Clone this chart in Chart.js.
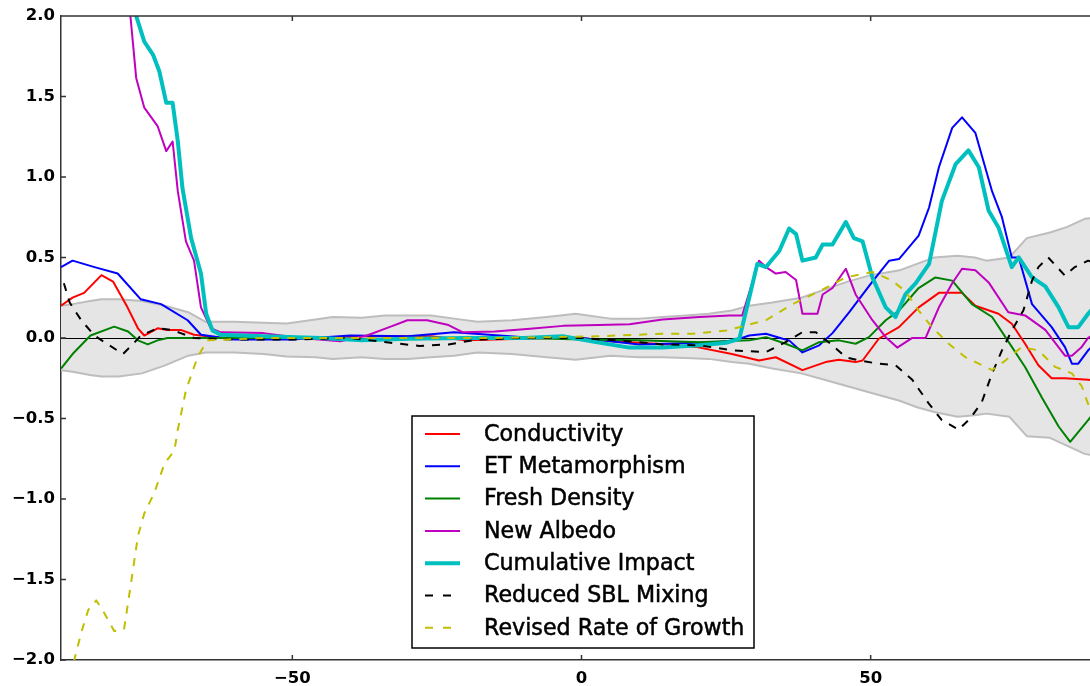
<!DOCTYPE html>
<html>
<head>
<meta charset="utf-8">
<script src="https://cdn.jsdelivr.net/npm/chart.js@4.4.1/dist/chart.umd.min.js"></script>
<style>
  html, body { margin: 0; padding: 0; background: #fff; overflow: hidden; }
  #wrap { width: 1090px; height: 686px; overflow: hidden; position: relative; }
</style>
</head>
<body>
<div id="wrap"><canvas id="chart" width="1120" height="686"></canvas></div>
<script>
// tick values
const xTicks = [-50, 0, 50];
const yTicks = [-2.0, -1.5, -1.0, -0.5, 0.0, 0.5, 1.0, 1.5, 2.0];

// grey spread band
const bandX = [-90, -88, -85, -83, -80, -76, -72, -68, -65, -60, -55, -51, -46, -43, -38, -34, -30, -26, -22, -18, -12, -6, -1, 5, 10, 14, 18, 22, 26, 29, 33, 38, 42, 46, 50, 55, 58, 61, 65, 68, 70, 74, 77, 81, 84, 87, 90];
const bandUpper = [0.20, 0.21, 0.23, 0.24, 0.24, 0.23, 0.20, 0.16, 0.10, 0.10, 0.095, 0.09, 0.115, 0.13, 0.125, 0.14, 0.14, 0.14, 0.12, 0.10, 0.11, 0.13, 0.15, 0.12, 0.12, 0.13, 0.14, 0.15, 0.17, 0.20, 0.22, 0.25, 0.30, 0.35, 0.39, 0.42, 0.46, 0.50, 0.51, 0.50, 0.48, 0.50, 0.62, 0.655, 0.69, 0.74, 0.75];
const bandLower = [-0.20, -0.21, -0.23, -0.24, -0.24, -0.22, -0.17, -0.11, -0.09, -0.09, -0.10, -0.115, -0.12, -0.13, -0.12, -0.13, -0.13, -0.12, -0.11, -0.09, -0.10, -0.12, -0.135, -0.11, -0.12, -0.12, -0.125, -0.13, -0.15, -0.16, -0.19, -0.22, -0.26, -0.30, -0.34, -0.39, -0.43, -0.46, -0.49, -0.48, -0.47, -0.49, -0.61, -0.62, -0.67, -0.72, -0.74];

// Conductivity
const condX = [-90, -88, -86, -83, -81, -78.5, -76.7, -75.6, -73.3, -71.6, -69.3, -67, -62, -55, -45, -38, -31, -26, -20, -15, -10, -5, 0, 5, 10, 15, 20, 26, 30.7, 33.6, 38.2, 42.2, 44.5, 47.4, 48.6, 51.4, 54.9, 58.3, 61.8, 65.8, 68.1, 72.1, 74.4, 76.7, 79, 81.3, 83.6, 87.6, 90];
const condY = [0.20, 0.25, 0.28, 0.39, 0.35, 0.19, 0.06, 0.015, 0.06, 0.05, 0.05, 0.02, 0.0, 0.0, 0.0, 0.01, 0.01, 0.01, -0.015, -0.01, -0.005, 0.0, 0.0, -0.02, -0.03, -0.04, -0.057, -0.10, -0.14, -0.12, -0.20, -0.15, -0.135, -0.15, -0.14, -0.005, 0.067, 0.19, 0.28, 0.28, 0.20, 0.15, 0.088, -0.036, -0.17, -0.25, -0.25, -0.26, -0.27];

// ET Metamorphism
const etX = [-90, -88, -84.2, -80.2, -76.2, -72.7, -68.1, -65.8, -60, -50, -40, -30, -22, -10, 0, 10, 20.4, 26.1, 29, 31.9, 34.8, 35.9, 38.2, 41.1, 43.4, 46.3, 50.3, 53.2, 54.9, 58.3, 60.1, 61.8, 64.1, 65.8, 68.1, 69.8, 71, 72.7, 74.4, 75.6, 77.9, 81.3, 83.6, 84.8, 85.9, 87.6, 90];
const etY = [0.44, 0.48, 0.44, 0.40, 0.24, 0.21, 0.11, 0.02, -0.01, -0.01, 0.015, 0.01, 0.035, 0.005, 0.0, -0.04, -0.03, -0.02, 0.015, 0.026, -0.005, -0.015, -0.09, -0.046, 0.03, 0.16, 0.35, 0.48, 0.49, 0.635, 0.81, 1.06, 1.305, 1.37, 1.274, 1.06, 0.91, 0.75, 0.50, 0.50, 0.21, 0.067, -0.057, -0.16, -0.16, -0.077, 0.0];

// Fresh Density
const fdX = [-90, -88, -84.9, -80.8, -78.4, -76.7, -75, -73.3, -71.6, -60, -50, -40, -30, -20, -10, 0, 10, 20.4, 29, 31.9, 35.3, 38.2, 41.1, 44.5, 47.4, 49.7, 52.6, 54.9, 58.3, 61.2, 64.1, 67.5, 71, 73.3, 76.7, 79.6, 82.5, 84.5, 87.6, 90];
const fdY = [-0.19, -0.10, 0.015, 0.07, 0.04, -0.015, -0.04, -0.015, 0.0, 0.0, 0.0, -0.01, -0.005, 0.0, 0.0, -0.01, -0.015, -0.026, -0.015, 0.005, -0.036, -0.077, -0.026, -0.015, -0.036, 0.005, 0.11, 0.17, 0.31, 0.376, 0.356, 0.21, 0.13, 0.005, -0.18, -0.37, -0.55, -0.645, -0.51, -0.40];

// New Albedo
const naX = [-80, -78, -77, -75.6, -73.3, -71.8, -70.7, -69.8, -68.4, -67, -65.8, -64.1, -62.4, -55, -48.6, -41.7, -37.1, -33, -30.1, -26.7, -23, -20.5, -15, -8.9, -3.2, 3, 8.3, 14, 20.4, 25.6, 27.8, 30.7, 31.9, 33.6, 35.3, 37.1, 38.2, 40.8, 41.7, 43.4, 45.7, 47.4, 50.3, 52.6, 54.6, 57.2, 59.5, 61.8, 64.1, 65.8, 68.1, 70.4, 73.8, 76.7, 80.2, 83.6, 84.8, 86.4, 87.6, 90];
const naY = [2.8, 2.0, 1.615, 1.43, 1.316, 1.16, 1.22, 0.91, 0.60, 0.48, 0.19, 0.06, 0.035, 0.03, 0.0, -0.02, 0.015, 0.07, 0.11, 0.11, 0.08, 0.035, 0.04, 0.057, 0.075, 0.08, 0.085, 0.115, 0.13, 0.14, 0.14, 0.48, 0.44, 0.40, 0.41, 0.36, 0.15, 0.15, 0.27, 0.31, 0.43, 0.27, 0.11, 0.005, -0.06, 0.0, 0.0, 0.19, 0.34, 0.43, 0.42, 0.345, 0.16, 0.14, 0.05, -0.11, -0.11, -0.06, 0.0, 0.05];

// Cumulative Impact
const ciX = [-80, -77, -75.6, -74.1, -73, -71.8, -70.7, -69.8, -69, -67.5, -65.8, -64.9, -63.8, -62.4, -55, -45, -38, -30, -20, -10, -3.2, 2.5, 8.3, 14, 20.4, 25, 27.3, 29.0, 30.4, 31.9, 34.2, 35.9, 37.1, 38.2, 40.5, 41.7, 43.4, 45.7, 47.1, 48.6, 50.3, 52.6, 54.3, 56.0, 57.8, 60.1, 62.3, 64.7, 66.9, 68.7, 70.4, 72.1, 74.4, 75.6, 77.9, 80.2, 82.5, 84.2, 85.9, 87.6, 90];
const ciY = [2.4, 2.0, 1.84, 1.76, 1.656, 1.46, 1.46, 1.22, 0.93, 0.62, 0.40, 0.15, 0.046, 0.02, 0.01, 0.0, -0.015, -0.005, 0.0, 0.0, 0.01, -0.026, -0.06, -0.06, -0.046, -0.03, -0.005, 0.25, 0.46, 0.44, 0.54, 0.68, 0.645, 0.48, 0.50, 0.58, 0.58, 0.72, 0.62, 0.60, 0.376, 0.19, 0.13, 0.27, 0.34, 0.46, 0.85, 1.08, 1.165, 1.06, 0.79, 0.686, 0.44, 0.50, 0.376, 0.32, 0.19, 0.067, 0.067, 0.15, 0.25];

// Reduced SBL Mixing
const sblX = [-89.5, -88.5, -86.5, -84.2, -81.9, -79.3, -77.6, -76.2, -73.3, -70.9, -69.3, -67, -60, -50, -40, -33, -28, -23, -18, -10, 0, 8, 14, 20.4, 26.1, 31.9, 35.3, 38.2, 40.5, 43.4, 45.7, 48.0, 51.4, 54.3, 57.2, 60.1, 62.3, 65.2, 67.2, 69.2, 71, 72.7, 74.4, 76.4, 77.9, 79, 80.7, 83.6, 85.3, 87.6, 90];
const sblY = [0.34, 0.22, 0.11, 0.015, -0.04, -0.10, -0.04, 0.015, 0.06, 0.05, 0.03, 0.0, -0.01, -0.01, 0.0, -0.03, -0.05, -0.04, -0.01, 0.0, 0.0, -0.02, -0.04, -0.046, -0.077, -0.088, -0.026, 0.036, 0.036, -0.046, -0.12, -0.14, -0.16, -0.17, -0.26, -0.41, -0.51, -0.57, -0.50, -0.40, -0.22, -0.077, 0.046, 0.17, 0.356, 0.44, 0.50, 0.387, 0.44, 0.48, 0.45];

// Revised Rate of Growth
const rrgX = [-90, -87.7, -86.5, -85.3, -83.9, -82.5, -80.8, -79.1, -77.8, -76.7, -75.6, -73.9, -72.1, -70.4, -69.8, -68.4, -66.4, -64.7, -55, -45, -35, -25, -15, -5, 2.5, 14, 19.2, 25, 27.3, 31.9, 36.5, 41.1, 45.7, 50.3, 53.7, 56, 58.3, 60.6, 63.5, 66.4, 71, 73.3, 76.1, 79, 81.9, 84.8, 86.5, 87.6, 90];
const rrgY = [-2.3, -2.0, -1.83, -1.69, -1.63, -1.71, -1.82, -1.81, -1.50, -1.23, -1.09, -0.965, -0.78, -0.70, -0.57, -0.325, -0.12, -0.015, 0.0, 0.0, 0.0, 0.0, 0.0, 0.005, 0.01, 0.026, 0.026, 0.046, 0.067, 0.11, 0.21, 0.29, 0.376, 0.41, 0.356, 0.29, 0.17, 0.067, -0.036, -0.12, -0.20, -0.14, -0.057, -0.077, -0.18, -0.22, -0.30, -0.41, -0.6];

function toPoints(xs, ys) {
    return xs.map(function(x, i) { return {x: x, y: ys[i]}; });
}

function series(label, xs, ys, color, width, dashed, order) {
    return {
        label: label,
        data: toPoints(xs, ys),
        borderColor: color,
        borderWidth: width,
        borderDash: dashed ? [8, 8] : [],
        fill: false,
        order: order,
        inLegend: true
    };
}

const AXIS_FONT = {family: 'DejaVu Sans', size: 16.5, weight: 'bold'};

// zero line, top spine, inward ticks and the framed legend
const decorations = {
    id: 'decorations',
    beforeDatasetsDraw: function(chart) {
        const ctx = chart.ctx, a = chart.chartArea;
        const y0 = Math.round(chart.scales.y.getPixelForValue(0)) + 0.5;
        ctx.save();
        ctx.strokeStyle = '#000';
        ctx.lineWidth = 1;
        ctx.beginPath();
        ctx.moveTo(a.left, y0);
        ctx.lineTo(a.right, y0);
        ctx.stroke();
        ctx.restore();
    },
    afterDraw: function(chart) {
        const ctx = chart.ctx, a = chart.chartArea;
        const xs = chart.scales.x, ys = chart.scales.y;
        ctx.save();
        ctx.strokeStyle = '#333';
        ctx.lineWidth = 1.5;
        ctx.beginPath();
        ctx.moveTo(a.left, a.top);
        ctx.lineTo(a.right, a.top);
        ctx.moveTo(a.right, a.top);
        ctx.lineTo(a.right, a.bottom);
        xTicks.forEach(function(v) {
            const px = xs.getPixelForValue(v);
            ctx.moveTo(px, a.bottom); ctx.lineTo(px, a.bottom - 5);
            ctx.moveTo(px, a.top); ctx.lineTo(px, a.top + 5);
        });
        yTicks.forEach(function(v) {
            const py = ys.getPixelForValue(v);
            ctx.moveTo(a.left, py); ctx.lineTo(a.left + 5, py);
            ctx.moveTo(a.right, py); ctx.lineTo(a.right - 5, py);
        });
        ctx.stroke();

        // legend box
        const items = chart.data.datasets.filter(function(d) { return d.inLegend; });
        const bx = 412, by = 416, bw = 342, bh = 232;
        ctx.fillStyle = '#fff';
        ctx.fillRect(bx, by, bw, bh);
        ctx.strokeStyle = '#000';
        ctx.lineWidth = 1.5;
        ctx.strokeRect(bx, by, bw, bh);
        ctx.font = '22.2px "DejaVu Sans"';
        ctx.textBaseline = 'middle';
        ctx.textAlign = 'left';
        items.forEach(function(d, i) {
            const cy = 434 + i * 32.3;
            ctx.strokeStyle = d.borderColor;
            ctx.lineWidth = d.borderWidth;
            ctx.setLineDash(d.borderDash.length ? [8, 10] : []);
            ctx.beginPath();
            ctx.moveTo(425, cy);
            ctx.lineTo(460, cy);
            ctx.stroke();
            ctx.setLineDash([]);
            // a hair of stroke to match the heavier look of the reference text
            ctx.fillStyle = '#000';
            ctx.strokeStyle = '#000';
            ctx.lineWidth = 0.5;
            ctx.fillText(d.label, 484, cy + 1);
            ctx.strokeText(d.label, 484, cy + 1);
        });
        ctx.restore();
    }
};

new Chart(document.getElementById('chart'), {
    type: 'line',
    data: {
        datasets: [
            {label: 'band upper', data: toPoints(bandX, bandUpper), borderColor: '#bdbdbd', borderWidth: 2,
             backgroundColor: '#e5e5e5', fill: '+1', order: 100},
            {label: 'band lower', data: toPoints(bandX, bandLower), borderColor: '#bdbdbd', borderWidth: 2,
             fill: false, order: 100},
            series('Conductivity', condX, condY, '#ff0000', 2, false, 7),
            series('ET Metamorphism', etX, etY, '#0000ff', 2, false, 6),
            series('Fresh Density', fdX, fdY, '#008000', 2, false, 5),
            series('New Albedo', naX, naY, '#bf00bf', 2, false, 4),
            series('Cumulative Impact', ciX, ciY, '#00bfbf', 4, false, 3),
            series('Reduced SBL Mixing', sblX, sblY, '#000000', 2, true, 2),
            series('Revised Rate of Growth', rrgX, rrgY, '#bfbf00', 2, true, 1)
        ]
    },
    options: {
        responsive: false,
        animation: false,
        devicePixelRatio: 1,
        layout: {padding: {top: 14, right: 18, left: 0, bottom: 0}},
        elements: {
            point: {radius: 0, hoverRadius: 0},
            line: {tension: 0, borderJoinStyle: 'round'}
        },
        datasets: {line: {clip: 0}},
        plugins: {
            legend: {display: false},
            tooltip: {enabled: false},
            filler: {drawTime: 'beforeDatasetsDraw'}
        },
        scales: {
            x: {
                type: 'linear',
                min: -90,
                max: 90,
                grid: {display: false, drawTicks: false},
                border: {display: true, color: '#333', width: 1.5},
                ticks: {
                    font: AXIS_FONT,
                    color: '#000',
                    padding: 9,
                    maxRotation: 0,
                    callback: function(v) { return String(v).replace('-', '\u2212'); }
                },
                afterBuildTicks: function(s) { s.ticks = xTicks.map(function(v) { return {value: v}; }); },
                afterFit: function(s) { s.height = 26; }
            },
            y: {
                min: -2,
                max: 2,
                grid: {display: false, drawTicks: false},
                border: {display: true, color: '#333', width: 1.5},
                ticks: {
                    font: AXIS_FONT,
                    color: '#000',
                    padding: 6,
                    callback: function(v) { return Number(v).toFixed(1).replace('-', '\u2212'); }
                },
                afterBuildTicks: function(s) { s.ticks = yTicks.map(function(v) { return {value: v}; }); },
                afterFit: function(s) { s.width = 61; }
            }
        }
    },
    plugins: [decorations]
});
</script>
</body>
</html>
